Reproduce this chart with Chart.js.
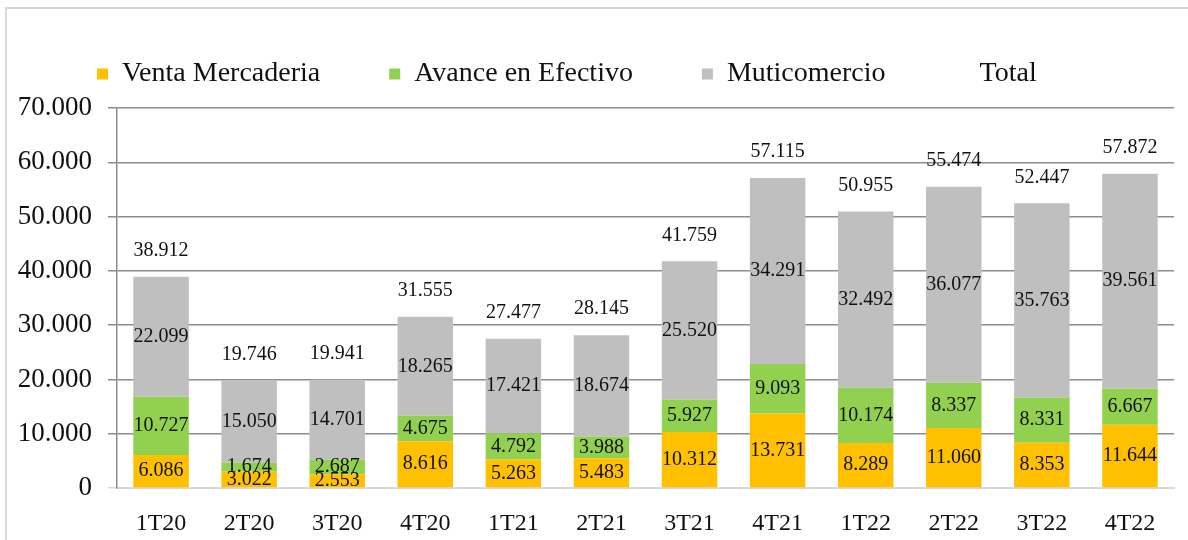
<!DOCTYPE html>
<html>
<head>
<meta charset="utf-8">
<script src="https://cdn.jsdelivr.net/npm/chart.js@4"></script>
<style>
  html, body { margin: 0; padding: 0; background: #fff; overflow: hidden; }
  #wrap { position: relative; width: 1188px; height: 540px; }
  #frame { position: absolute; left: 5px; top: 7px; width: 1200px; height: 560px;
           border-top: 2px solid #d9d9d9; border-left: 2px solid #d9d9d9; }
  #chart { position: absolute; left: 0; top: 0; }
</style>
</head>
<body>
<div id="wrap">
  <div id="frame"></div>
  <canvas id="chart" width="1188" height="540"></canvas>
</div>
<script>
const trimestres = ['1T20', '2T20', '3T20', '4T20', '1T21', '2T21', '3T21', '4T21', '1T22', '2T22', '3T22', '4T22'];
const ventaMercaderia = [6086, 3022, 2553, 8616, 5263, 5483, 10312, 13731, 8289, 11060, 8353, 11644];
const avanceEfectivo = [10727, 1674, 2687, 4675, 4792, 3988, 5927, 9093, 10174, 8337, 8331, 6667];
const muticomercio = [22099, 15050, 14701, 18265, 17421, 18674, 25520, 34291, 32492, 36077, 35763, 39561];
const totales = [38912, 19746, 19941, 31555, 27477, 28145, 41759, 57115, 50955, 55474, 52447, 57872];
const ticksY = [0, 10000, 20000, 30000, 40000, 50000, 60000, 70000];

const SERIF = "'Liberation Serif', 'Times New Roman', serif";

// separador de miles con punto
const fmt = v => String(v).replace(/\B(?=(\d{3})+(?!\d))/g, '.');

// leyenda con alto fijo y desplazada; etiquetas de valor en cada tramo y total encima
const etiquetas = {
    id: 'etiquetas',
    beforeLayout(chart) {
        const legend = chart.legend;
        if (legend && !legend._altoFijo) {
            const fit = legend.fit;
            legend.fit = function () {
                fit.call(this);
                this.height = 108;
            };
            legend._altoFijo = true;
        }
    },
    afterLayout(chart) {
        const legend = chart.legend;
        legend.left = 28;
        legend.top = -9;
    },
    afterDatasetsDraw(chart) {
        const ctx = chart.ctx;
        ctx.save();
        ctx.font = '20px ' + SERIF;
        ctx.fillStyle = '#111';
        ctx.textAlign = 'center';
        ctx.textBaseline = 'middle';
        chart.data.datasets.forEach((ds, i) => {
            const meta = chart.getDatasetMeta(i);
            meta.data.forEach((el, j) => {
                const v = ds.data[j];
                const y = ds.type === 'line' ? el.y - 26 : (el.y + el.base) / 2;
                ctx.fillText(fmt(v), el.x, y);
            });
        });
        ctx.restore();
    }
};

const ctx = document.getElementById('chart').getContext('2d');
new Chart(ctx, {
    type: 'bar',
    data: {
        labels: trimestres,
        datasets: [
            { label: 'Venta Mercaderia', data: ventaMercaderia, backgroundColor: '#FFC000', stack: 's' },
            { label: 'Avance en Efectivo', data: avanceEfectivo, backgroundColor: '#92D050', stack: 's' },
            { label: 'Muticomercio', data: muticomercio, backgroundColor: '#BFBFBF', stack: 's' },
            {
                type: 'line', label: 'Total', data: totales, stack: 'total',
                showLine: false, pointRadius: 0, pointHoverRadius: 0,
                borderColor: 'rgba(0,0,0,0)', backgroundColor: 'rgba(0,0,0,0)', borderWidth: 0
            }
        ]
    },
    options: {
        responsive: false,
        animation: false,
        events: [],
        datasets: {
            bar: { barPercentage: 0.63, categoryPercentage: 1, borderWidth: 0 }
        },
        layout: { padding: { left: 6, right: 14, top: 0, bottom: 0 } },
        plugins: {
            tooltip: { enabled: false },
            legend: {
                display: true,
                position: 'top',
                align: 'start',
                labels: {
                    boxWidth: 11,
                    boxHeight: 11,
                    padding: 69,
                    color: '#111',
                    font: { family: SERIF, size: 28 }
                }
            }
        },
        scales: {
            x: {
                stacked: true,
                grid: { display: false },
                border: { display: true, color: '#d9d9d9', width: 2 },
                ticks: { color: '#111', padding: 13, font: { family: SERIF, size: 24 } },
                afterFit(scale) { scale.height = 52; }
            },
            y: {
                stacked: true,
                min: 0,
                max: 70000,
                afterBuildTicks(scale) { scale.ticks = ticksY.map(v => ({ value: v })); },
                grid: {
                    color: c => (c.tick && c.tick.value === 0 ? '#d9d9d9' : '#8c8c8c'),
                    lineWidth: 1.5,
                    tickLength: 9
                },
                border: { display: true, color: '#8c8c8c', width: 1.5 },
                ticks: {
                    color: '#111',
                    padding: 16,
                    font: { family: SERIF, size: 27 },
                    callback: v => fmt(v)
                },
                afterFit(scale) { scale.width = 111; }
            }
        }
    },
    plugins: [etiquetas]
});
</script>
</body>
</html>
